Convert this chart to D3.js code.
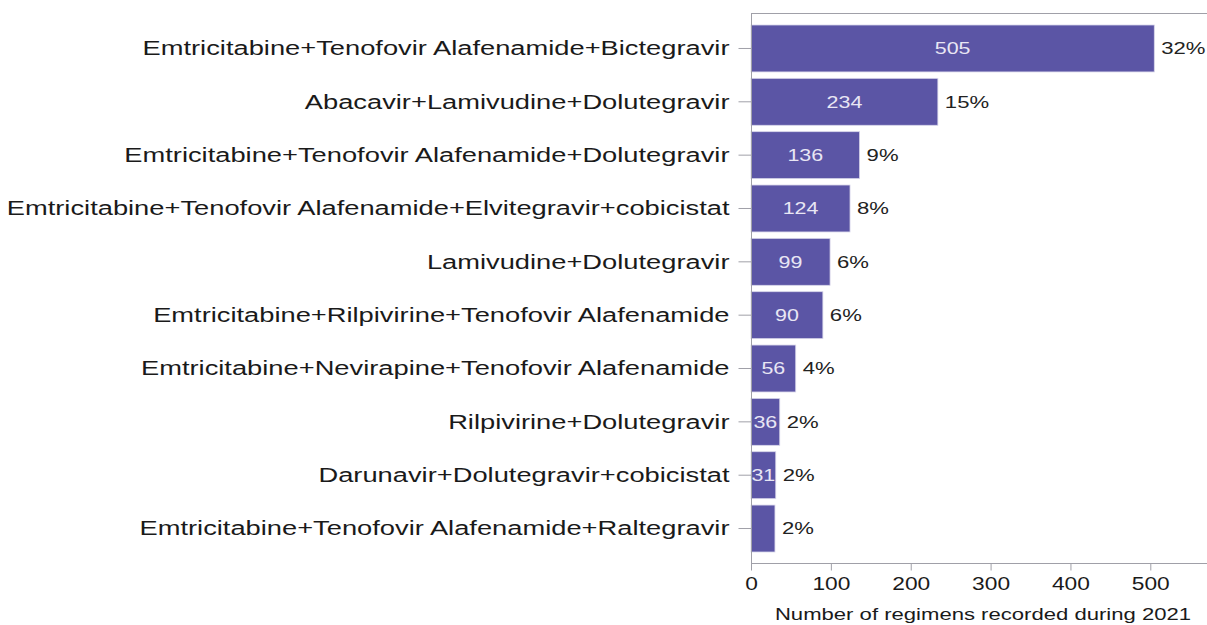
<!DOCTYPE html>
<html>
<head>
<meta charset="utf-8">
<script src="https://cdn.jsdelivr.net/npm/d3@7"></script>
<style>
  body { margin: 0; background: #fff; }
  text { font-family: "Liberation Sans", Arial, sans-serif; }
</style>
</head>
<body>
<script>
// regimens, top to bottom
var regimens = [
  "Emtricitabine+Tenofovir Alafenamide+Bictegravir",
  "Abacavir+Lamivudine+Dolutegravir",
  "Emtricitabine+Tenofovir Alafenamide+Dolutegravir",
  "Emtricitabine+Tenofovir Alafenamide+Elvitegravir+cobicistat",
  "Lamivudine+Dolutegravir",
  "Emtricitabine+Rilpivirine+Tenofovir Alafenamide",
  "Emtricitabine+Nevirapine+Tenofovir Alafenamide",
  "Rilpivirine+Dolutegravir",
  "Darunavir+Dolutegravir+cobicistat",
  "Emtricitabine+Tenofovir Alafenamide+Raltegravir"
];
var counts = [505, 234, 136, 124, 99, 90, 56, 36, 31, 30];
var countLabels = ["505", "234", "136", "124", "99", "90", "56", "36", "31", ""];
var percents = ["32%", "15%", "9%", "8%", "6%", "6%", "4%", "2%", "2%", "2%"];
var xTicks = [0, 100, 200, 300, 400, 500];
var xTitle = "Number of regimens recorded during 2021";

window.onload = () => {
  var W = 1207, H = 625;
  var left = 751, top = 13, bottom = 563;
  var sx = 1.3; // text in the original is drawn wide

  var svg = d3.select("body").append("svg")
    .attr("width", W).attr("height", H);

  var x = d3.scaleLinear().domain([0, 571]).range([left, W]);
  var y = d3.scaleBand().domain(regimens).range([25, 552])
    .paddingInner(0.12).paddingOuter(0);

  var axisColor = "#a0a0a8";

  function place(px, py) {
    return "translate(" + px + "," + py + ") scale(" + sx + ",1)";
  }

  // frame top line
  svg.append("line")
    .attr("x1", left).attr("x2", W)
    .attr("y1", top + 0.5).attr("y2", top + 0.5)
    .attr("stroke", axisColor);

  // bars
  svg.selectAll("rect.bar")
    .data(counts)
    .enter().append("rect")
    .attr("class", "bar")
    .attr("x", x(0))
    .attr("y", (d, i) => y(regimens[i]))
    .attr("width", d => x(d) - x(0))
    .attr("height", y.bandwidth())
    .attr("fill", "#5b55a5")
    .attr("stroke", "#d8d6ea")
    .attr("stroke-width", 0.8);

  // value labels inside bars
  svg.selectAll("text.val")
    .data(counts)
    .enter().append("text")
    .attr("class", "val")
    .attr("transform", (d, i) => place((x(0) + x(d)) / 2, y(regimens[i]) + y.bandwidth() / 2))
    .attr("dy", "0.35em")
    .attr("text-anchor", "middle")
    .attr("fill", "#e8e6f4")
    .style("font-size", "16.5px")
    .text((d, i) => countLabels[i]);

  // percent labels
  svg.selectAll("text.pct")
    .data(counts)
    .enter().append("text")
    .attr("class", "pct")
    .attr("transform", (d, i) => place(x(d) + 7, y(regimens[i]) + y.bandwidth() / 2))
    .attr("dy", "0.35em")
    .attr("fill", "#222")
    .style("font-size", "17px")
    .text((d, i) => percents[i]);

  // y axis
  var gy = svg.append("g")
    .attr("transform", "translate(" + (left + 0.5) + ",0)")
    .call(d3.axisLeft(y).tickSize(13));
  gy.select(".domain").attr("stroke", axisColor).attr("d", "M0," + top + "V" + bottom);
  gy.selectAll(".tick line").attr("stroke", axisColor);
  gy.selectAll(".tick text")
    .attr("x", 0)
    .attr("transform", place(-22, 0))
    .attr("fill", "#1a1a1a")
    .style("font-size", "21px")
    .style("font-family", "'Liberation Sans', Arial, sans-serif");

  // x axis
  var gx = svg.append("g")
    .attr("transform", "translate(0," + (bottom + 0.5) + ")")
    .call(d3.axisBottom(x).tickValues(xTicks).tickSize(7));
  gx.select(".domain").attr("stroke", axisColor).attr("d", "M" + left + ",0H" + W);
  gx.selectAll(".tick line").attr("stroke", axisColor);
  gx.selectAll(".tick text")
    .attr("y", 0)
    .attr("transform", place(0, 14))
    .attr("fill", "#1a1a1a")
    .style("font-size", "17.5px")
    .style("font-family", "'Liberation Sans', Arial, sans-serif");

  svg.append("text")
    .attr("transform", place((778 + 1188) / 2, 620))
    .attr("text-anchor", "middle")
    .attr("fill", "#1a1a1a")
    .style("font-size", "17px")
    .text(xTitle);
};
</script>
</body>
</html>
